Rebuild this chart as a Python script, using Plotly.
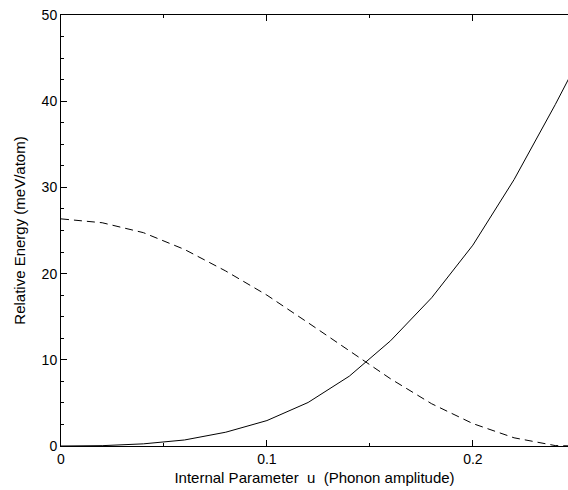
import plotly.graph_objects as go

u = [0.0, 0.02, 0.04, 0.06, 0.08, 0.10, 0.12, 0.14, 0.16, 0.18, 0.20, 0.22, 0.24, 0.25]
solid_energy = [0.0, 0.04, 0.25, 0.7, 1.6, 2.95, 5.05, 8.1, 12.2, 17.2, 23.3, 30.9, 39.6, 44.2]
dashed_energy = [26.35, 25.9, 24.75, 22.8, 20.3, 17.5, 14.3, 11.0, 7.8, 4.9, 2.6, 0.95, 0.05, 0.0]

x_ticks = [0, 0.1, 0.2]
x_tick_labels = ["0", "0.1", "0.2"]
y_ticks = [0, 10, 20, 30, 40, 50]
y_tick_labels = ["0", "10", "20", "30", "40", "50"]

fig = go.Figure()
fig.add_trace(go.Scatter(x=u, y=solid_energy, mode="lines",
                         line=dict(color="black", width=1), showlegend=False))
fig.add_trace(go.Scatter(x=u, y=dashed_energy, mode="lines",
                         line=dict(color="black", width=1, dash="8px,5px"), showlegend=False))

font = dict(family="Liberation Sans, Arial, sans-serif", color="black")
fig.update_layout(
    width=568, height=490,
    margin=dict(l=61, r=0, t=15, b=44),
    plot_bgcolor="white", paper_bgcolor="white",
    font=dict(size=14, **font),
)
fig.update_xaxes(
    range=[0, 0.2462], tickvals=x_ticks, ticktext=x_tick_labels,
    ticks="inside", ticklen=6, tickcolor="black", tickwidth=1,
    minor=dict(dtick=0.05, ticks="inside", ticklen=3, tickcolor="black"),
    showline=True, linecolor="black", linewidth=1, mirror="allticks",
    showgrid=False, zeroline=False,
    tickfont=dict(size=14, **font),
    title=dict(text="Internal Parameter  u  (Phonon amplitude)", font=dict(size=15, **font), standoff=6),
)
fig.update_yaxes(
    range=[0, 50], tickvals=y_ticks, ticktext=y_tick_labels,
    ticks="inside", ticklen=6, tickcolor="black", tickwidth=1,
    minor=dict(dtick=2.5, ticks="inside", ticklen=3, tickcolor="black"),
    showline=True, linecolor="black", linewidth=1, mirror=False,
    showgrid=False, zeroline=False,
    tickfont=dict(size=14, **font),
    title=dict(text="Relative Energy (meV/atom)", font=dict(size=15, **font), standoff=12),
)
fig.write_html("out.html")
